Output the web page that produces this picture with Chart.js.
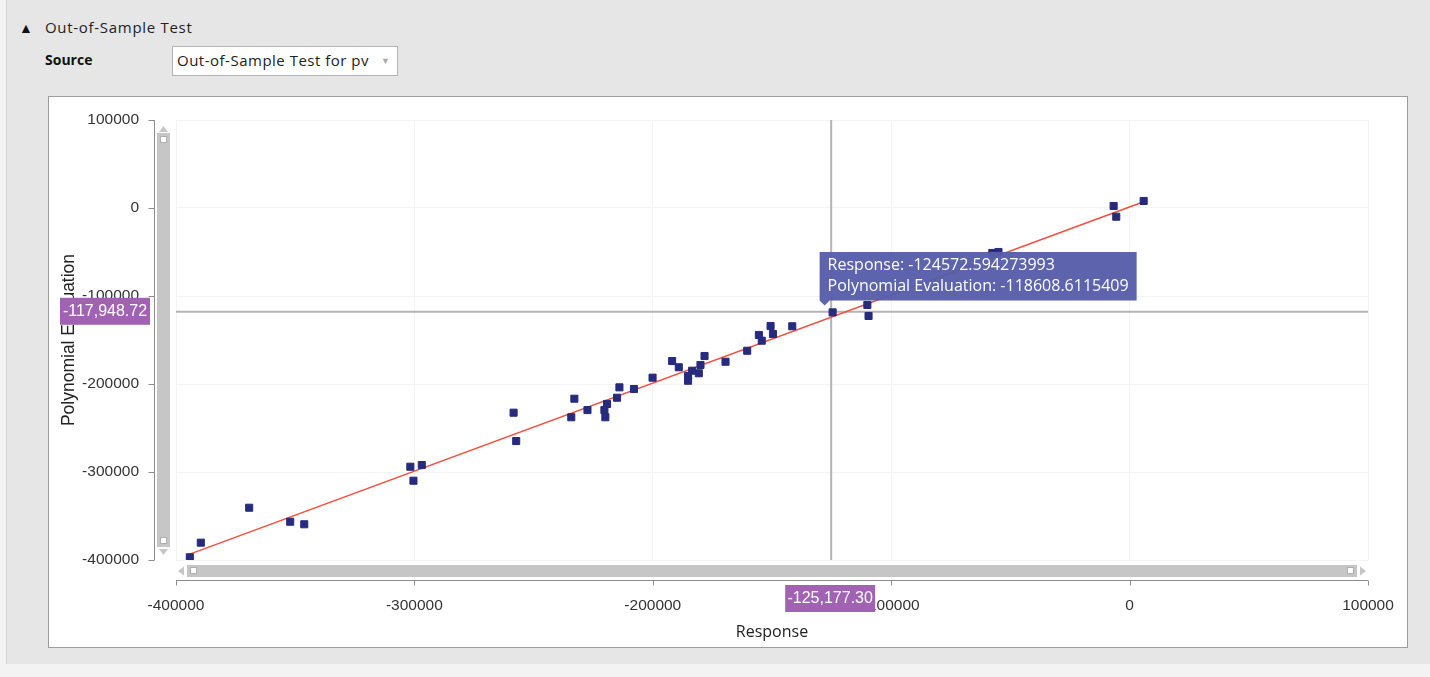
<!DOCTYPE html>
<html lang="en">
<head>
<meta charset="UTF-8" />
<title>Out-of-Sample Test</title>
<script src="https://cdn.jsdelivr.net/npm/chart.js"></script>
<style>
  body {
    margin: 0;
    width: 1430px;
    height: 677px;
    background: #f3f3f3;
    font-family: "Open Sans", sans-serif;
    overflow: hidden;
    position: relative;
  }
  #frame {
    position: absolute;
    left: 6px;
    top: 0;
    width: 1424px;
    height: 664px;
    background: #e6e6e6;
    border-left: 1px solid #d4d4d4;
  }
  .toggle { position: absolute; left: 19px; top: 18px; font-size: 14px; color: #111; }
  .section-title { position: absolute; left: 45px; top: 17px; font-size: 15px; letter-spacing: 0.7px; color: #222; }
  .source-label { position: absolute; left: 45px; top: 50px; font-size: 14px; font-weight: bold; color: #111; }
  .source-select {
    position: absolute;
    left: 172px;
    top: 46px;
    width: 226px;
    height: 30px;
    background: #fff;
    border: 1px solid #b4b4b4;
    box-sizing: border-box;
    font-size: 15px;
    letter-spacing: 0.5px;
    color: #222;
    line-height: 27px;
    padding-left: 4px;
  }
  .source-select span { position: absolute; right: 7px; top: 0; color: #aaa; font-size: 9px; letter-spacing: 0; }
  #panel {
    position: absolute;
    left: 48px;
    top: 96px;
    width: 1360px;
    height: 552px;
    background: #fff;
    border: 1px solid #9c9c9c;
    box-sizing: border-box;
  }
  #chartBox { position: absolute; left: 1px; top: 1px; width: 1356px; height: 548px; }
</style>
</head>
<body>
  <div id="frame"></div>
  <div class="toggle">&#9650;</div>
  <div class="section-title">Out-of-Sample Test</div>
  <div class="source-label">Source</div>
  <div class="source-select">Out-of-Sample Test for pv<span>&#9660;</span></div>
  <div id="panel">
    <div id="chartBox"><canvas id="testChart" width="1356" height="548"></canvas></div>
  </div>

<script>
  // out-of-sample points: response vs polynomial evaluation
  const responseValues = [
    -394200, -389600, -369300, -352100, -346200,
    -301700, -300400, -296900, -258400, -257300,
    -234200, -232900, -227400, -220300, -219200, -219900,
    -215000, -214000, -207900, -200100,
    -191900, -189100, -185200, -185200, -183500, -180700, -180000, -178300,
    -169500, -160400, -155500, -154300, -150600, -149600, -141500,
    -124572.594273993,
    -110000, -109500,
    -57600, -55000,
    -6700, -5600, 5900
  ];
  const polyValues = [
    -396900, -380300, -340600, -356500, -359400,
    -294000, -309900, -292100, -232600, -264800,
    -237800, -216700, -229600, -229600, -222700, -237800,
    -215600, -203800, -205700, -192800,
    -173900, -181000, -190900, -196300, -184900, -187800, -178400, -168200,
    -174700, -162200, -144300, -150800, -134100, -143200, -134400,
    -118608.6115409,
    -110200, -122700,
    -51100, -50000,
    2300, -9900, 8000
  ];

  // fitted line end points
  const fitResponse = [-394200, 5900];
  const fitPoly = [-393300, 7150];

  const axisMin = -400000;
  const axisMax = 100000;
  const axisStep = 100000;

  // hovered point and crosshair cursor position
  const hoverIndex = 35;
  const cursorResponse = -125177.30;
  const cursorPoly = -117948.72;

  const points = responseValues.map((x, i) => ({ x: x, y: polyValues[i] }));
  const fitLine = fitResponse.map((x, i) => ({ x: x, y: fitPoly[i] }));

  const fmtCursor = v => v.toLocaleString("en-US", { minimumFractionDigits: 2, maximumFractionDigits: 2 });

  // tooltip sits a little left of the hovered point, like the original
  Chart.Tooltip.positioners.pinned = function (items) {
    if (!items.length) return false;
    const el = items[0].element;
    return { x: el.x - 8, y: el.y };
  };

  function drawScrollbars(ctx, area) {
    const { left, right, top, bottom } = area;
    ctx.fillStyle = "#c6c6c6";
    // vertical
    ctx.beginPath();
    ctx.moveTo(left - 12.5, top + 6);
    ctx.lineTo(left - 17, top + 12);
    ctx.lineTo(left - 8, top + 12);
    ctx.fill();
    ctx.fillRect(left - 19, top + 13, 13, bottom - top - 26);
    ctx.beginPath();
    ctx.moveTo(left - 12.5, bottom - 5);
    ctx.lineTo(left - 17, bottom - 11);
    ctx.lineTo(left - 8, bottom - 11);
    ctx.fill();
    // horizontal
    ctx.beginPath();
    ctx.moveTo(left + 2, bottom + 11);
    ctx.lineTo(left + 8, bottom + 6.5);
    ctx.lineTo(left + 8, bottom + 15.5);
    ctx.fill();
    ctx.fillRect(left + 11, bottom + 5, right - left - 22, 12);
    ctx.beginPath();
    ctx.moveTo(right - 2, bottom + 11);
    ctx.lineTo(right - 8, bottom + 6.5);
    ctx.lineTo(right - 8, bottom + 15.5);
    ctx.fill();
    // little white grips
    ctx.fillStyle = "#fff";
    ctx.strokeStyle = "#b0b0b0";
    ctx.lineWidth = 1;
    [[left - 16, top + 16], [left - 16, bottom - 23], [left + 14, bottom + 7], [right - 21, bottom + 7]].forEach(p => {
      ctx.fillRect(p[0], p[1], 7, 7);
      ctx.strokeRect(p[0] + 0.5, p[1] + 0.5, 6, 6);
    });
  }

  const overlay = {
    id: "overlay",
    beforeDatasetsDraw(chart) {
      const { ctx, chartArea, scales } = chart;
      const cx = scales.x.getPixelForValue(cursorResponse);
      const cy = scales.y.getPixelForValue(cursorPoly);
      ctx.save();
      ctx.strokeStyle = "#b4b4b4";
      ctx.lineWidth = 2;
      ctx.beginPath();
      ctx.moveTo(cx, chartArea.top);
      ctx.lineTo(cx, chartArea.bottom);
      ctx.moveTo(chartArea.left, cy);
      ctx.lineTo(chartArea.right, cy);
      ctx.stroke();
      ctx.restore();
    },
    afterDraw(chart) {
      const { ctx, chartArea, scales } = chart;
      const xs = scales.x, ys = scales.y;
      ctx.save();
      drawScrollbars(ctx, chartArea);

      // axis lines sit outside the scrollbars
      const axX = chartArea.left - 21.5;
      const axY = chartArea.bottom + 20.5;
      ctx.strokeStyle = "#8c8c8c";
      ctx.lineWidth = 1;
      ctx.beginPath();
      ctx.moveTo(axX, chartArea.top);
      ctx.lineTo(axX, chartArea.bottom);
      ys.ticks.forEach(t => {
        const py = Math.round(ys.getPixelForValue(t.value)) + 0.5;
        ctx.moveTo(axX - 6, py);
        ctx.lineTo(axX, py);
      });
      ctx.moveTo(chartArea.left, axY);
      ctx.lineTo(chartArea.right, axY);
      xs.ticks.forEach(t => {
        const px = Math.round(xs.getPixelForValue(t.value)) + 0.5;
        ctx.moveTo(px, axY);
        ctx.lineTo(px, axY + 5);
      });
      ctx.stroke();

      // purple cursor labels
      const cx = xs.getPixelForValue(cursorResponse);
      const cy = ys.getPixelForValue(cursorPoly);
      ctx.fillStyle = "#a262b4";
      ctx.fillRect(10, cy - 14, 90, 27);
      ctx.fillRect(cx - 46, chartArea.bottom + 25, 90, 27);
      ctx.fillStyle = "#fff";
      ctx.font = "16px 'Liberation Sans'";
      ctx.textAlign = "center";
      ctx.textBaseline = "middle";
      ctx.fillText(fmtCursor(cursorPoly), 55, cy);
      ctx.fillText(fmtCursor(cursorResponse), cx - 1, chartArea.bottom + 39);
      ctx.restore();
    }
  };

  const tickFont = { family: "Liberation Sans", size: 15.5 };

  const chart = new Chart(document.getElementById("testChart"), {
    type: "scatter",
    data: {
      datasets: [
        {
          label: "Out-of-Sample Test",
          data: points,
          pointStyle: "rect",
          pointRadius: 5,
          pointHoverRadius: 5,
          backgroundColor: "#272b7d",
          borderColor: "#272b7d",
          borderWidth: 1,
          pointHoverBorderWidth: 1,
          order: 1
        },
        {
          type: "line",
          label: "Fit",
          data: fitLine,
          borderColor: "#f24e3e",
          borderWidth: 1.5,
          pointRadius: 0,
          pointHoverRadius: 0,
          fill: false,
          order: 2
        }
      ]
    },
    options: {
      responsive: false,
      animation: false,
      devicePixelRatio: 1,
      events: [],
      layout: { padding: { left: 0, right: 38, top: 22, bottom: 0 } },
      scales: {
        x: {
          type: "linear",
          min: axisMin,
          max: axisMax,
          afterFit: s => { s.height = 86; },
          ticks: { stepSize: axisStep, padding: 0, color: "#333", font: tickFont, maxRotation: 0, callback: v => String(v) },
          grid: { color: "#f3f3f3", drawTicks: true, tickLength: 36, tickColor: "rgba(0,0,0,0)" },
          border: { display: false },
          title: { display: true, text: "Response", color: "#222", font: { family: "Open Sans", size: 16 }, padding: { top: 0, bottom: 4 } }
        },
        y: {
          type: "linear",
          min: axisMin,
          max: axisMax,
          afterFit: s => { s.width = 126; },
          ticks: { stepSize: axisStep, padding: 0, color: "#333", font: tickFont, callback: v => String(v) },
          grid: { color: "#f3f3f3", drawTicks: true, tickLength: 37, tickColor: "rgba(0,0,0,0)" },
          border: { display: false },
          title: { display: true, text: "Polynomial Evaluation", color: "#222", font: { family: "Liberation Sans", size: 17.5 }, padding: { top: 9, bottom: 0 } }
        }
      },
      plugins: {
        legend: { display: false },
        tooltip: {
          enabled: true,
          position: "pinned",
          xAlign: "left",
          yAlign: "bottom",
          backgroundColor: "rgba(88,94,170,0.97)",
          bodyColor: "#fff",
          bodyFont: { family: "Open Sans", size: 16 },
          bodySpacing: 2,
          padding: { top: 4, bottom: 4, left: 8, right: 8 },
          cornerRadius: 0,
          caretSize: 5,
          caretPadding: 7,
          displayColors: false,
          callbacks: {
            title: () => "",
            label: c => ["Response: " + c.raw.x, "Polynomial Evaluation: " + c.raw.y]
          }
        }
      }
    },
    plugins: [overlay]
  });

  const hovered = chart.getDatasetMeta(0).data[hoverIndex];
  chart.tooltip.setActiveElements([{ datasetIndex: 0, index: hoverIndex }], { x: hovered.x, y: hovered.y });
  chart.update();
</script>
</body>
</html>
